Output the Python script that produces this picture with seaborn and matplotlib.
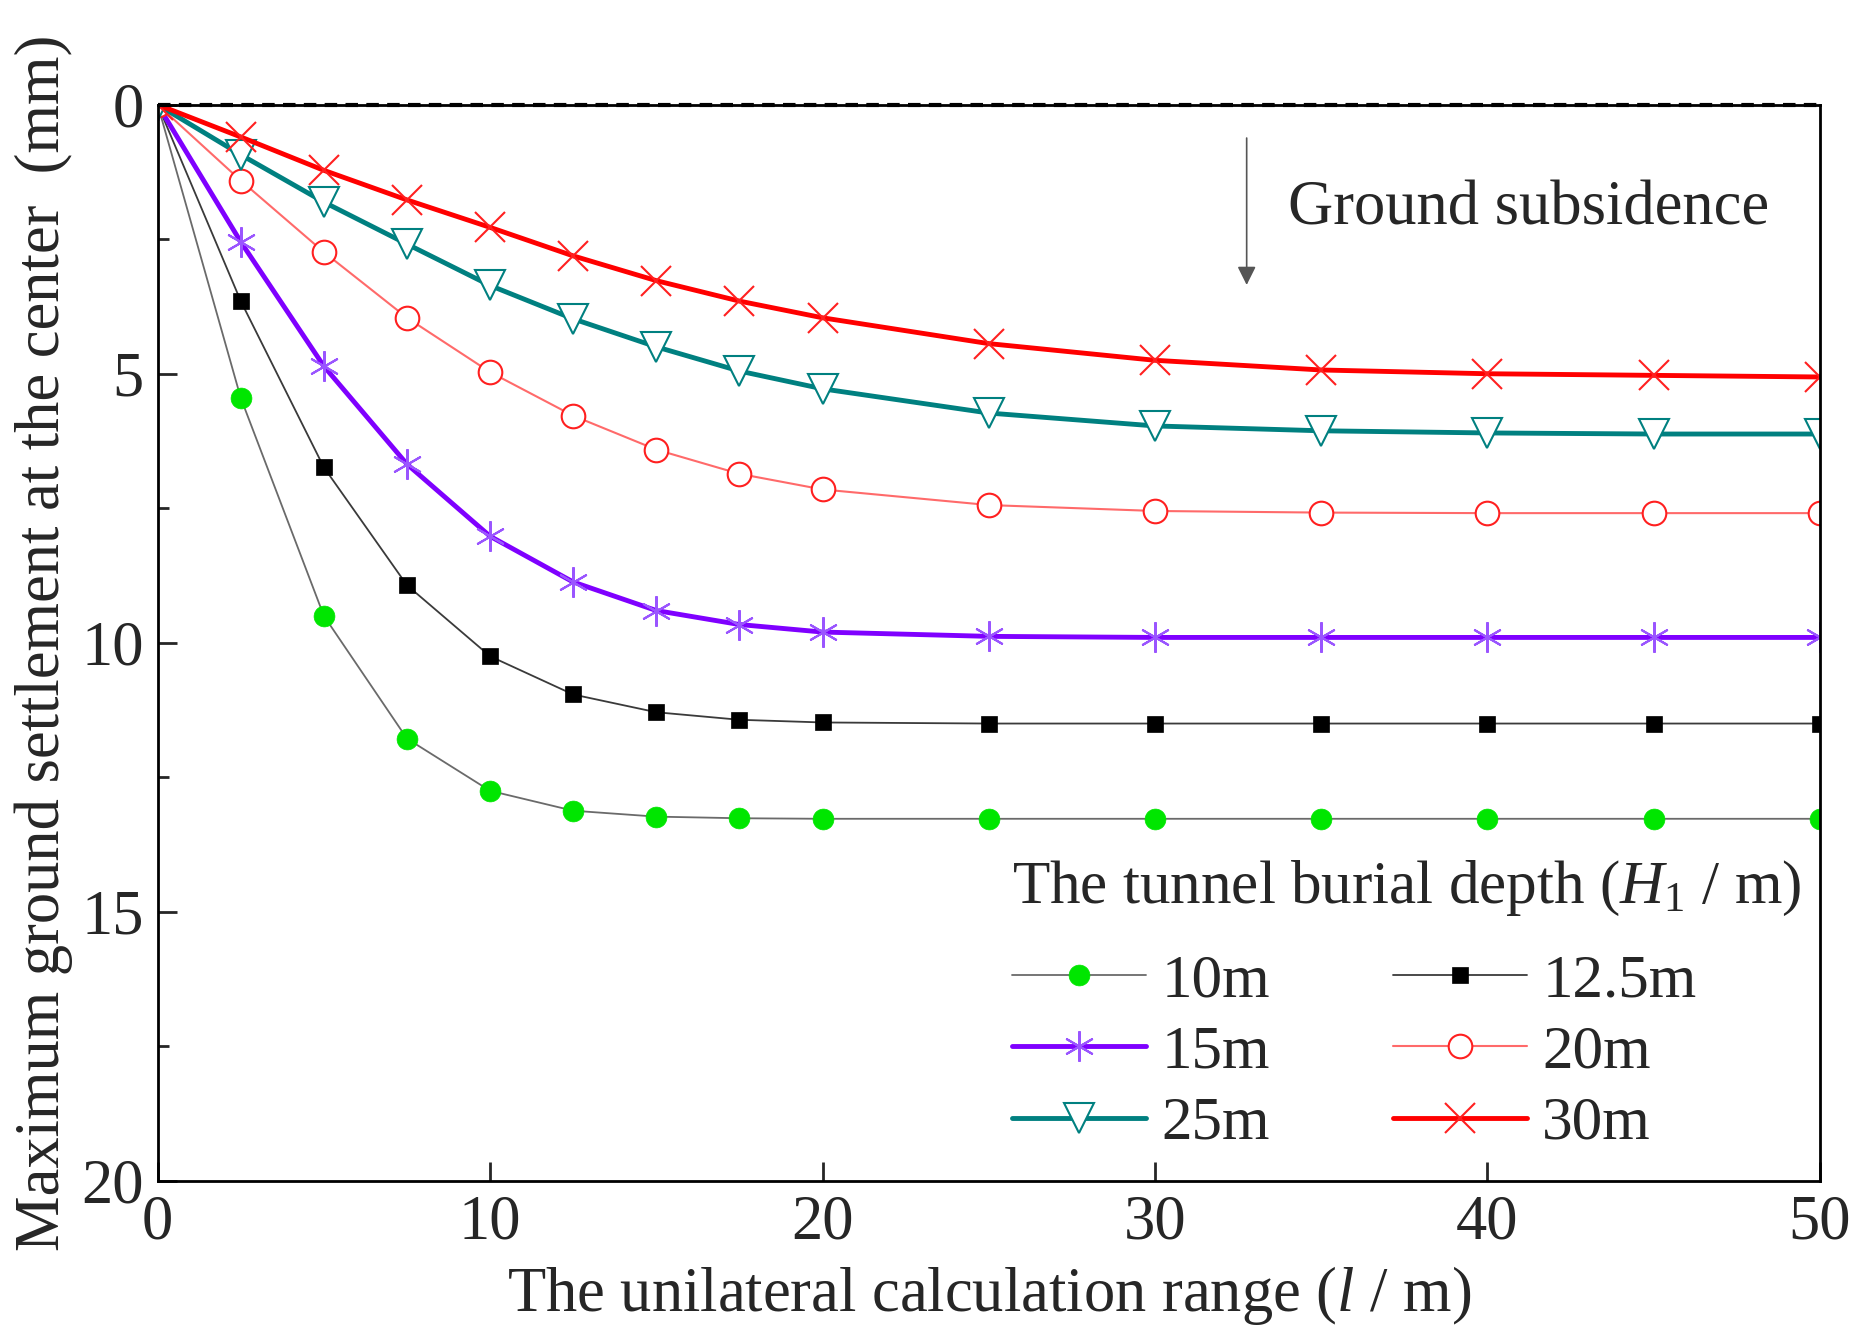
import numpy as np
import pandas as pd
import matplotlib
matplotlib.use("Agg")
import matplotlib.pyplot as plt
import seaborn as sns

##### DATA #####
calc_range = [0, 2.5, 5, 7.5, 10, 12.5, 15, 17.5, 20, 25, 30, 35, 40, 45, 50]

settle_10 = [0, 5.45, 9.50, 11.78, 12.75, 13.12, 13.23, 13.26, 13.27, 13.27, 13.27, 13.27, 13.27, 13.27, 13.27]
settle_125 = [0, 3.65, 6.74, 8.93, 10.25, 10.96, 11.29, 11.43, 11.48, 11.50, 11.50, 11.50, 11.50, 11.50, 11.50]
settle_15 = [0, 2.55, 4.86, 6.68, 8.02, 8.87, 9.40, 9.66, 9.80, 9.88, 9.90, 9.90, 9.90, 9.90, 9.90]
settle_20 = [0, 1.41, 2.74, 3.96, 4.97, 5.78, 6.41, 6.86, 7.15, 7.44, 7.55, 7.58, 7.59, 7.59, 7.59]
settle_25 = [0, 0.93, 1.81, 2.59, 3.36, 3.98, 4.50, 4.95, 5.28, 5.73, 5.97, 6.06, 6.10, 6.12, 6.12]
settle_30 = [0, 0.60, 1.22, 1.77, 2.28, 2.81, 3.27, 3.65, 3.96, 4.44, 4.75, 4.93, 5.00, 5.03, 5.06]

depth_labels = ["10m", "12.5m", "15m", "20m", "25m", "30m"]

##### STYLE #####
sns.set_style("ticks")
plt.rcParams['font.family'] = ['Liberation Serif', 'DejaVu Serif']
plt.rcParams['mathtext.fontset'] = 'custom'
plt.rcParams['mathtext.rm'] = 'Liberation Serif'
plt.rcParams['mathtext.it'] = 'Liberation Serif:italic'

FS = 45

fig = plt.figure(figsize=(18.55, 13.42), dpi=100)
ax = fig.add_axes([0.085, 0.120, 0.896, 0.802])

series = [settle_10, settle_125, settle_15, settle_20, settle_25, settle_30]
styles = [
    dict(color="#6a6a6a", linewidth=1.3, marker="o", markersize=15,
         markerfacecolor="#00e600", markeredgecolor="#00e600", markeredgewidth=0.5),
    dict(color="#3a3a3a", linewidth=1.3, marker="s", markersize=12,
         markerfacecolor="black", markeredgecolor="black", markeredgewidth=0.5),
    dict(color="#7f00ff", linewidth=3.5, marker=(6, 2, 0), markersize=22,
         markerfacecolor="#9a55ff", markeredgecolor="#9a55ff", markeredgewidth=1.5),
    dict(color="#ff6a6a", linewidth=1.5, marker="o", markersize=17,
         markerfacecolor="white", markeredgecolor="#ff2020", markeredgewidth=1.5),
    dict(color="#008080", linewidth=3.5, marker="v", markersize=21,
         markerfacecolor="white", markeredgecolor="#008080", markeredgewidth=1.5),
    dict(color="#ff0000", linewidth=3.5, marker="x", markersize=22,
         markerfacecolor="#ff2020", markeredgecolor="#ff2020", markeredgewidth=1.5),
]

for vals, lab, st in zip(series, depth_labels, styles):
    df = pd.DataFrame({"range": calc_range, "settle": vals})
    sns.lineplot(data=df, x="range", y="settle", ax=ax, label=lab, **st)

# reference line at zero
ax.axhline(0, color="black", linestyle="--", linewidth=3, dashes=(3, 2), clip_on=False, zorder=5)

ax.set_xlim(0, 50)
ax.set_ylim(20, 0)
ax.set_xticks([0, 10, 20, 30, 40, 50])
ax.set_yticks([0, 5, 10, 15, 20])
ax.set_yticks(np.arange(2.5, 20, 5), minor=True)
ax.tick_params(axis="both", which="major", direction="in", length=14, width=2,
               labelsize=FS, pad=10, right=False, top=False)
ax.tick_params(axis="y", which="minor", direction="in", length=8, width=2, right=False)
for sp in ax.spines.values():
    sp.set_visible(True)
    sp.set_linewidth(2)
    sp.set_color("black")

ax.set_xlabel("The unilateral calculation range ($l$ / m)", fontsize=FS, labelpad=8)
ax.set_ylabel("Maximum ground settlement at the center  (mm)", fontsize=FS, labelpad=6)

# annotation arrow
ax.annotate("", xy=(32.76, 3.35), xytext=(32.76, 0.62),
            arrowprops=dict(arrowstyle="-|>", color="#555555", lw=1.2,
                            mutation_scale=28, shrinkA=0, shrinkB=0))
ax.text(34.0, 1.95, "Ground subsidence", fontsize=FS, va="center", ha="left")

# legend laid out row-wise in two columns
handles, labels = ax.get_legend_handles_labels()
order = [0, 2, 4, 1, 3, 5]
leg = ax.legend([handles[i] for i in order], [labels[i] for i in order],
                title="The tunnel burial depth ($H_{\\rm 1}$ / m)",
                ncol=2, frameon=False, fontsize=44, title_fontsize=44,
                loc="lower left", bbox_to_anchor=(0.514, 0.027),
                borderpad=0, borderaxespad=0,
                handlelength=2.2, handletextpad=0.25, columnspacing=2.0,
                labelspacing=0.25, alignment="left")
leg._legend_box.sep = 26

fig.savefig("out.png", dpi=100)
